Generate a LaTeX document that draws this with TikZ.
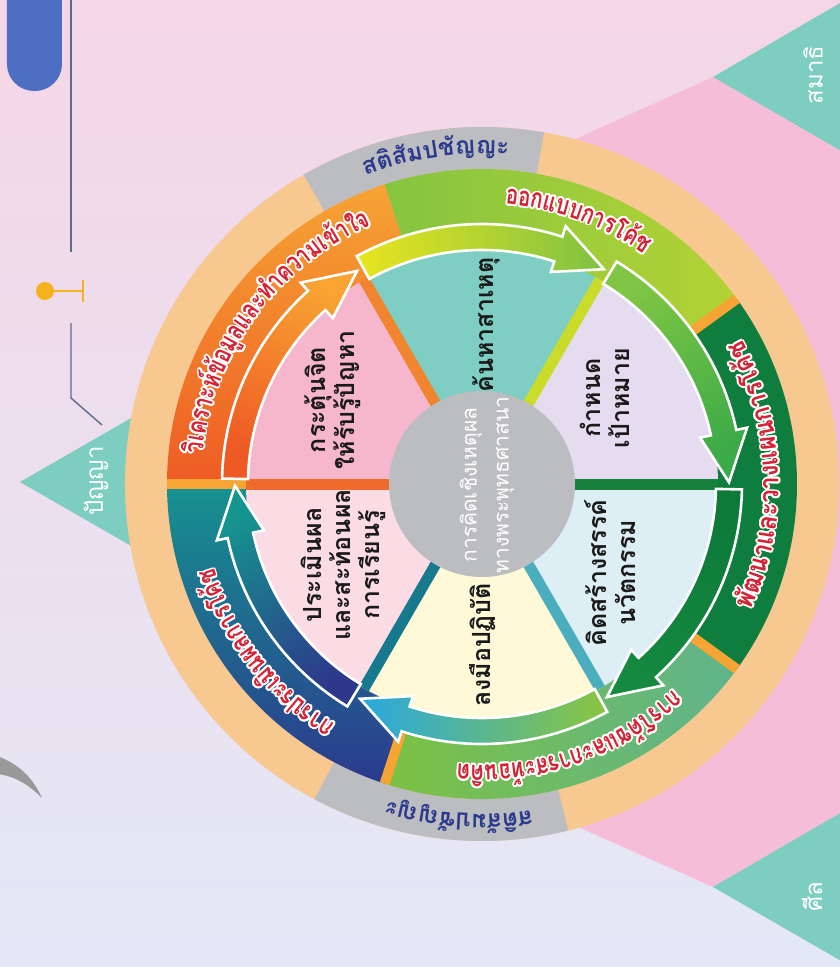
\documentclass[tikz,border=0pt]{standalone}
\usepackage{fontspec}
\usepackage{contour}
\usetikzlibrary{calc}
\newfontfamily\thai[Script=Thai]{Loma}
\newfontfamily\thainarrow[Script=Thai, FakeStretch=0.76]{Loma}
\newfontfamily\thaihalf[Script=Thai, FakeStretch=0.89]{Loma}
\definecolor{bgtop}{HTML}{F4D6E6}
\definecolor{bgmid}{HTML}{E7D7EE}
\definecolor{bgbot}{HTML}{E4E8F6}
\definecolor{pinkzone}{HTML}{F6BDD9}
\definecolor{tealtri}{HTML}{7DCDC0}
\definecolor{peach}{HTML}{F8C891}
\definecolor{ringgray}{HTML}{BCBDC0}
\definecolor{sepgold}{HTML}{F6A434}
\definecolor{bandred}{HTML}{D52335}
\definecolor{navytext}{HTML}{2C3A8E}
\definecolor{inkblack}{HTML}{1A1A1A}
\definecolor{guideline}{HTML}{5C6B8A}
\definecolor{pinyellow}{HTML}{F5B21C}
\definecolor{pillblue}{HTML}{4D6EC2}
\definecolor{wpink}{HTML}{F6B6CB}
\definecolor{wteal}{HTML}{7FCEC4}
\definecolor{wlav}{HTML}{E5DDEF}
\definecolor{wblue}{HTML}{DDEEF5}
\definecolor{wyellow}{HTML}{FFF9D8}
\definecolor{wrose}{HTML}{FCDCE4}
\definecolor{sporange}{HTML}{EE6B2A}
\definecolor{sporangeb}{HTML}{F1852F}
\definecolor{splime}{HTML}{CADB2A}
\definecolor{spgreen}{HTML}{17803C}
\definecolor{spcyan}{HTML}{4BAEBF}
\definecolor{spteal}{HTML}{16798D}
\definecolor{bandorange}{HTML}{EE5B24}
\definecolor{bandlightA}{HTML}{86C440}
\definecolor{bandlightB}{HTML}{B3D335}
\definecolor{banddark}{HTML}{0F7D3E}
\definecolor{bandgreenA}{HTML}{7CC143}
\definecolor{bandgreenB}{HTML}{5FB48D}
\definecolor{bandtealA}{HTML}{16928F}
\definecolor{bandnavyB}{HTML}{2B3A8E}
\definecolor{arrOrangeT}{HTML}{EE5A24}
\definecolor{arrOrangeH}{HTML}{F8A332}
\definecolor{arrYellowT}{HTML}{E9E51F}
\definecolor{arrYellowH}{HTML}{7EC242}
\definecolor{arrGreenT}{HTML}{80C644}
\definecolor{arrGreenH}{HTML}{3BAA48}
\definecolor{arrDarkT}{HTML}{0D7A3A}
\definecolor{arrDarkH}{HTML}{15893F}
\definecolor{arrCyanT}{HTML}{8BC53F}
\definecolor{arrCyanH}{HTML}{29A8E0}
\definecolor{arrNavyT}{HTML}{2D388A}
\definecolor{arrNavyH}{HTML}{15958F}
\contourlength{1.8pt}
\newdimen\sylwd
\newcommand\bandfont{\thai\bfseries\fontsize{24}{28}\selectfont}
\newcommand\narrowfont{\thainarrow\bfseries\fontsize{27}{31}\selectfont}
\newcommand\halffont{\thaihalf\bfseries\fontsize{27}{31}\selectfont}
\newcommand\rednarrow[1]{{\narrowfont\contour{white}{#1}}}
\newcommand\redhalf[1]{{\halffont\contour{white}{#1}}}
\newcommand\navylab[1]{{\bandfont #1}}
\newcommand\sylmeasure[1]{%
  \pgfinterruptpicture\settowidth\sylwd{#1}\global\sylwd=\sylwd\endpgfinterruptpicture}
% syllables set one by one round an arc
\newcommand\arclabel[6]{% name, radius, centre angle, turn, wrapper, syllables
  \gdef\arcsum{0}%
  \foreach \syl in {#6}{%
    \sylmeasure{#5{\syl}}%
    \pgfmathsetmacro\arctmp{\arcsum+\the\sylwd}\xdef\arcsum{\arctmp}}%
  \pgfmathsetmacro\arctmp{#3-(#4)*0.5*\arcsum/#2*180/pi}\xdef\arcpos{\arctmp}%
  \foreach \syl [count=\k] in {#6}{%
    \sylmeasure{#5{\syl}}%
    \pgfmathsetmacro\arcmid{\arcpos+(#4)*0.5*\the\sylwd/#2*180/pi}%
    \pgfmathsetmacro\arctmp{\arcpos+(#4)*\the\sylwd/#2*180/pi}\xdef\arcpos{\arctmp}%
    \node[arcchunk, rotate=\arcmid+(#4)*90] (#1-\k) at (\arcmid:#2) {#5{\syl}};}%
}
\newcommand\ringarrow[3]{% spoke angle, tail colour, head colour
  \pgfmathsetmacro\arrtail{#1-1.2}%
  \pgfmathsetmacro\arrbarb{#1-48}%
  \pgfmathsetmacro\arrtip{#1-59.6}%
  \pgfmathsetmacro\arrshade{#1-210}%
  \shadedraw[arrowpiece, top color=#3, bottom color=#2, shading angle=\arrshade]
    (\arrtail:260) arc[start angle=\arrtail, end angle=\arrbarb, radius=260]
    -- (\arrbarb:271) -- (\arrtip:247) -- (\arrbarb:223) -- (\arrbarb:234)
    arc[start angle=\arrbarb, end angle=\arrtail, radius=234] -- cycle;
}
\tikzset{
  ring/.style n args={4}{insert path={(#3:#2) arc[start angle=#3, end angle=#4, radius=#2]
    -- (#4:#1) arc[start angle=#4, end angle=#3, radius=#1] -- cycle}},
  arcchunk/.style={inner sep=0pt, anchor=base},
  redtext/.style={text=bandred},
  wedgetext/.style={rotate=90, align=center, inner sep=0pt, text=inkblack,
    font=\thai\bfseries\fontsize{25}{29}\selectfont},
  hubtext/.style={rotate=90, align=center, inner sep=0pt, text=white,
    font=\thai\fontsize{21}{32}\selectfont},
  tritext/.style={rotate=90, inner sep=0pt, text=white,
    font=\thai\fontsize{24}{28}\selectfont},
  spoke/.style={line width=11pt},
  divider/.style={sepgold, line width=10pt},
  arrowpiece/.style={draw=white, line width=2.6pt, line join=miter},
  guide/.style={guideline, line width=1.4pt}
}
\begin{document}
\begin{tikzpicture}[x=1pt, y=1pt]
  \useasboundingbox (-482,-483) rectangle (358,484);
  % background
  \shade[top color=bgtop, middle color=bgmid, bottom color=bgbot] (-482,-483) rectangle (358,484);
  \fill[pinkzone] (231,407) -- (58,329) -- (0,0) -- (58,-326) -- (231,-403) -- (420,-293) -- (420,298) -- cycle;
  \fill[tealtri] (231,407) -- (420,517) -- (420,298) -- cycle;
  \fill[tealtri] (231,-403) -- (420,-293) -- (420,-512) -- cycle;
  \fill[tealtri] (-462,2) -- (-250,124) -- (-250,-120) -- cycle;
  \node[tritext] (samathi) at (331,409) {สมาธิ};
  \node[tritext] (sila) at (330,-413) {ศีล};
  \node[tritext] (panya) at (-386,3) {ปัญญา};
  \fill[pillblue, rounded corners=27pt] (-475,393) rectangle (-420,540);
  \coordinate (g1) at (-411,484);
  \coordinate (g2) at (-411,232);
  \coordinate (g3) at (-411,161);
  \coordinate (g4) at (-411,86);
  \coordinate (g5) at (-380,59);
  \draw[guide] (g1) -- (g2);
  \draw[guide] (g3) -- (g4) -- (g5);
  \node[circle, fill=pinyellow, inner sep=0pt, minimum size=18pt] (pin) at (-437,193) {};
  \coordinate (pinend) at (-399,193);
  \draw[pinyellow, line width=2.2pt] (pin) -- (pinend) ($(pinend)+(0,11)$) -- ($(pinend)+(0,-11)$);
  \fill[gray!80] (-485,-272) .. controls (-462,-280) and (-448,-296) .. (-440,-314)
    .. controls (-452,-302) and (-466,-292) .. (-485,-290) -- cycle;

  % wheel rings
  \fill[peach] (0,0) circle (357);
  \fill[ringgray, ring={315}{357}{80}{120}];
  \fill[ringgray, ring={315}{357}{-118}{-76}];
  \shade[top color=sepgold, bottom color=bandorange, ring={228}{315}{108}{180}];
  \shade[left color=bandlightA, right color=bandlightB, ring={228}{315}{36}{108}];
  \fill[banddark, ring={228}{315}{-36}{36}];
  \shade[left color=bandgreenA, right color=bandgreenB, ring={228}{315}{-108}{-36}];
  \shade[top color=bandtealA, bottom color=bandnavyB, ring={228}{315}{180}{252}];
  \foreach \a in {180,36,-36,-108}
    \draw[divider] (\a:228) -- (\a:315);

  % wedges and spokes
  \foreach \a/\c in {120/wpink, 60/wteal, 0/wlav, -60/wblue, -120/wyellow, 180/wrose}
    \fill[\c] (0,0) -- (\a:236) arc[start angle=\a, end angle=\a+60, radius=236] -- cycle;
  \foreach \a/\c in {180/sporange, 120/sporangeb, 60/splime, 0/spgreen, -60/spcyan, -120/spteal}
    \draw[spoke, \c] (0,0) -- (\a:236);

  % arrows round the wheel
  \ringarrow{180}{arrOrangeT}{arrOrangeH}
  \ringarrow{120}{arrYellowT}{arrYellowH}
  \ringarrow{60}{arrGreenT}{arrGreenH}
  \ringarrow{0}{arrDarkT}{arrDarkH}
  \ringarrow{-60}{arrCyanT}{arrCyanH}
  \ringarrow{-120}{arrNavyT}{arrNavyH}

  \fill[ringgray] (0,0) circle (93);
  \node[hubtext] (hub) at (5,-1) {การคิดเชิงเหตุผล\\ทางพระพุทธศาสนา};

  % wedge labels
  \node[wedgetext] (arouse) at (-149,84) {กระตุ้นจิต\\ให้รับรู้ปัญหา};
  \node[wedgetext] (cause) at (4,159) {ค้นหาสาเหตุ};
  \node[wedgetext] (goal) at (123,86) {กำหนด\\เป้าหมาย};
  \node[wedgetext] (create) at (128,-89) {คิดสร้างสรรค์\\นวัตกรรม};
  \node[wedgetext] (practice) at (1,-161) {ลงมือปฏิบัติ};
  \node[wedgetext] (reflect) at (-139,-81) {ประเมินผล\\และสะท้อนผล\\การเรียนรู้};

  % ring labels
  \begin{scope}[every node/.append style={redtext}]
    \arclabel{analyse}{281}{143.5}{-1}{\rednarrow}{วิ,เค,ราะ,ห์,ข้อ,มู,ล,แล,ะ,ทำ,ค,วาม,เข้า,ใจ}
    \arclabel{design}{281}{70}{-1}{\rednarrow}{ออ,ก,แบ,บ,กา,ร,โค้,ช}
    \arclabel{plan}{297}{2}{1}{\redhalf}{พั,ฒ,นา,แล,ะ,วา,ง,แผ,น,กา,ร,โค้,ช}
    \arclabel{coach}{281}{-71}{-1}{\rednarrow}{กา,ร,โค้,ช,แล,ะ,กา,ร,สะ,ท้,อ,น,คิ,ด}
    \arclabel{assess}{281}{218}{-1}{\rednarrow}{กา,ร,ป,ระ,เมิ,น,ผ,ล,กา,ร,โค้,ช}
  \end{scope}
  \begin{scope}[every node/.append style={text=navytext}]
    \arclabel{satitop}{330}{98}{-1}{\navylab}{ส,ติ,สั,ม,ป,ชั,ญ,ญะ}
    \arclabel{satibot}{330}{-94}{-1}{\navylab}{ส,ติ,สั,ม,ป,ชั,ญ,ญะ}
  \end{scope}
\end{tikzpicture}
\end{document}
